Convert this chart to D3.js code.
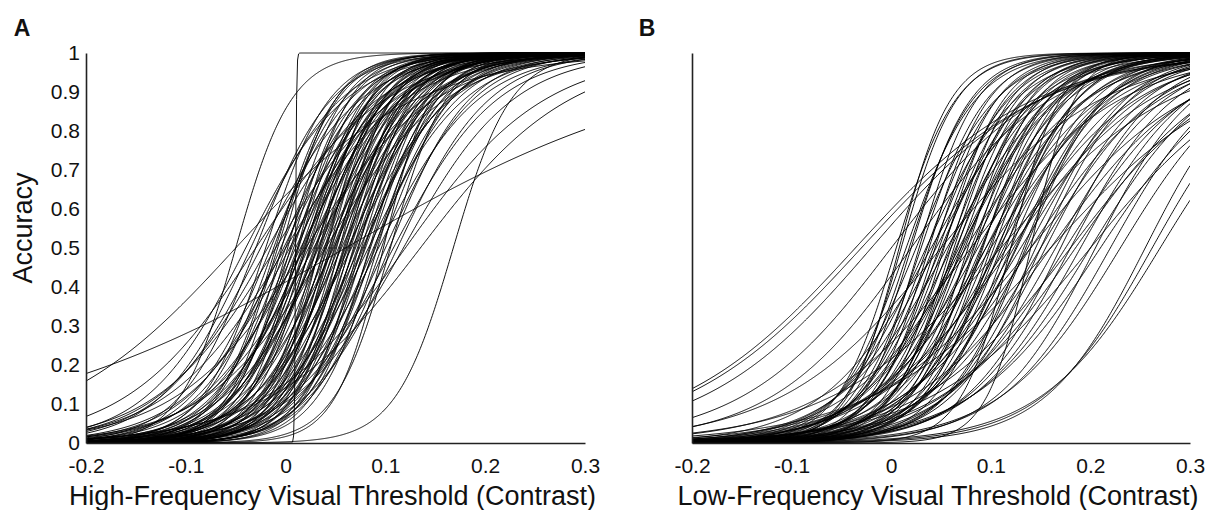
<!DOCTYPE html>
<html>
<head>
<meta charset="utf-8">
<script src="https://cdn.jsdelivr.net/npm/d3@7"></script>
<style>
  body { margin: 0; background: #fff; }
  text { font-family: "Liberation Sans", Arial, sans-serif; fill: #111; }
</style>
</head>
<body>
<svg id="chart" width="1221" height="510"></svg>
<script>
// psychometric fits, one entry per participant: midpoint (accuracy 0.5) and spread
const highMid = [
  -0.035, -0.03, -0.025, -0.02, -0.018, -0.015, -0.012, -0.01, -0.008, -0.005,
  -0.002, 0.0, 0.002, 0.004, 0.006, 0.008, 0.01, 0.012, 0.013, 0.015,
  0.016, 0.018, 0.02, 0.021, 0.023, 0.025, 0.026, 0.028, 0.03, 0.031,
  0.033, 0.035, 0.036, 0.038, 0.04, 0.041, 0.043, 0.045, 0.046, 0.048,
  0.05, 0.051, 0.053, 0.055, 0.056, 0.058, 0.06, 0.061, 0.063, 0.065,
  0.066, 0.068, 0.07, 0.072, 0.074, 0.076, 0.078, 0.08, 0.083, 0.085,
  0.088, 0.09, 0.093, 0.096, 0.1, 0.104, 0.108, 0.112, 0.118,
  0.01, 0.06, -0.05, 0.168, 0.12, 0.135, -0.03, -0.04, 0.0, 0.02, 0.04,
  -0.05, 0.098, 0.105,
  0.005, 0.012, 0.019, 0.024, 0.029, 0.034, 0.039, 0.044, 0.049, 0.054,
  0.059, 0.064, 0.069, 0.073, 0.079, 0.084, 0.089, -0.01, -0.004, 0.017,
  0.032, 0.047, 0.062, 0.077, 0.092
];
const highSpread = [
  0.045, 0.038, 0.05, 0.032, 0.055, 0.04, 0.035, 0.06, 0.03, 0.042,
  0.048, 0.036, 0.028, 0.052, 0.04, 0.033, 0.045, 0.038, 0.03, 0.05,
  0.034, 0.042, 0.029, 0.037, 0.046, 0.032, 0.04, 0.055, 0.035, 0.027,
  0.044, 0.031, 0.038, 0.05, 0.033, 0.026, 0.041, 0.035, 0.03, 0.047,
  0.036, 0.028, 0.039, 0.032, 0.045, 0.03, 0.037, 0.027, 0.042, 0.033,
  0.05, 0.029, 0.038, 0.034, 0.045, 0.03, 0.04, 0.036, 0.048, 0.032,
  0.042, 0.038, 0.05, 0.035, 0.044, 0.04, 0.052, 0.046, 0.055,
  0.0005, 0.17, 0.09, 0.029, 0.07, 0.075, 0.065, 0.05, 0.06, 0.065, 0.06,
  0.028, 0.024, 0.028,
  0.03, 0.026, 0.033, 0.028, 0.036, 0.025, 0.03, 0.027, 0.033, 0.026,
  0.032, 0.028, 0.034, 0.027, 0.031, 0.029, 0.034, 0.03, 0.027, 0.04,
  0.042, 0.04, 0.045, 0.043, 0.03
];

const lowMid = [
  0.005, 0.01, 0.015, 0.02, 0.025, 0.03, 0.035, 0.038, 0.042, 0.045,
  0.048, 0.05, 0.053, 0.056, 0.058, 0.06, 0.063, 0.065, 0.068, 0.07,
  0.072, 0.075, 0.077, 0.08, 0.082, 0.085, 0.087, 0.09, 0.092, 0.095,
  0.098, 0.1, 0.103, 0.106, 0.108, 0.11, 0.113, 0.116, 0.12, 0.123,
  0.126, 0.13, 0.133, 0.137, 0.14, 0.145, 0.15, 0.155, 0.16, 0.165,
  0.17, 0.175, 0.18, 0.185, 0.19, 0.2, 0.205, 0.21, 0.22, 0.23,
  0.255, 0.262, 0.27,
  -0.036, -0.03, -0.02, 0.0, 0.02, 0.05, 0.08, 0.11, 0.14, 0.16,
  0.14, 0.12,
  0.008, 0.018, 0.028, 0.036, 0.044, 0.052, 0.06, 0.066, 0.074, 0.083,
  0.091, 0.1, 0.107, 0.115, 0.125, 0.135, 0.15, 0.04, 0.07, 0.095,
  0.12, 0.18, 0.2
];
const lowSpread = [
  0.03, 0.028, 0.035, 0.03, 0.04, 0.033, 0.045, 0.03, 0.038, 0.05,
  0.034, 0.042, 0.03, 0.055, 0.037, 0.046, 0.032, 0.04, 0.05, 0.035,
  0.043, 0.06, 0.031, 0.039, 0.048, 0.036, 0.055, 0.042, 0.033, 0.05,
  0.04, 0.062, 0.036, 0.045, 0.055, 0.038, 0.05, 0.065, 0.042, 0.055,
  0.047, 0.06, 0.04, 0.052, 0.065, 0.045, 0.058, 0.05, 0.07, 0.055,
  0.048, 0.062, 0.052, 0.068, 0.055, 0.06, 0.05, 0.065, 0.055, 0.06,
  0.05, 0.055, 0.06,
  0.09, 0.09, 0.085, 0.075, 0.07, 0.08, 0.075, 0.085, 0.08, 0.09,
  0.022, 0.025,
  0.026, 0.032, 0.029, 0.035, 0.031, 0.036, 0.03, 0.034, 0.038, 0.032,
  0.037, 0.034, 0.04, 0.036, 0.045, 0.04, 0.045, 0.055, 0.05, 0.058,
  0.07, 0.075, 0.08
];

const xTicks = [-0.2, -0.1, 0, 0.1, 0.2, 0.3];
const xTickLabels = ["-0.2", "-0.1", "0", "0.1", "0.2", "0.3"];
const yTicks = [0, 0.1, 0.2, 0.3, 0.4, 0.5, 0.6, 0.7, 0.8, 0.9, 1];
const yTickLabels = ["0", "0.1", "0.2", "0.3", "0.4", "0.5", "0.6", "0.7", "0.8", "0.9", "1"];

const svg = d3.select("#chart");
const plotTop = 53, plotBottom = 443;
const samples = d3.range(0, 501).map(i => -0.2 + i * 0.001);

function drawPanel(cfg) {
    const x = d3.scaleLinear().domain([-0.2, 0.3]).range([cfg.left, cfg.right]);
    const y = d3.scaleLinear().domain([0, 1]).range([plotBottom, plotTop]);

    const g = svg.append("g");

    const clipId = "clip-" + cfg.name;
    svg.append("clipPath").attr("id", clipId)
        .append("rect")
        .attr("x", cfg.left).attr("y", plotTop - 2)
        .attr("width", cfg.right - cfg.left).attr("height", plotBottom - plotTop + 2);

    const line = d3.line()
        .x(d => x(d[0]))
        .y(d => y(d[1]));

    const curves = cfg.mid.map((m, i) => {
        const s = cfg.spread[i];
        return samples.map(v => [v, 1 / (1 + Math.exp(-(v - m) / s))]);
    });

    g.append("g")
        .attr("clip-path", `url(#${clipId})`)
        .selectAll("path")
        .data(curves)
        .join("path")
        .attr("d", line)
        .attr("fill", "none")
        .attr("stroke", "#000")
        .attr("stroke-opacity", 0.92)
        .attr("stroke-width", 1);

    const xaxis = d3.axisBottom(x)
        .tickValues(xTicks)
        .tickFormat((d, i) => xTickLabels[i])
        .tickSize(0)
        .tickPadding(15);
    const xg = g.append("g")
        .attr("transform", `translate(0,${plotBottom})`)
        .call(xaxis);
    xg.selectAll("text").attr("font-size", 21).attr("fill", "#111");

    const yaxis = d3.axisLeft(y)
        .tickValues(yTicks)
        .tickFormat((d, i) => cfg.yLabels ? yTickLabels[i] : "")
        .tickSize(0)
        .tickPadding(6);
    const yg = g.append("g")
        .attr("transform", `translate(${cfg.left},0)`)
        .call(yaxis);
    yg.selectAll("text").attr("font-size", 21).attr("fill", "#111");

    g.selectAll(".domain").attr("stroke", "#222").attr("stroke-width", 1.6);

    g.append("text")
        .attr("x", (cfg.left + cfg.right) / 2 - 3)
        .attr("y", 505)
        .attr("text-anchor", "middle")
        .attr("font-size", 27)
        .text(cfg.title);

    g.append("text")
        .attr("x", cfg.labelX)
        .attr("y", 36)
        .attr("text-anchor", "middle")
        .attr("font-size", 23)
        .attr("font-weight", "bold")
        .text(cfg.name);

    if (cfg.yTitle) {
        g.append("text")
            .attr("transform", `translate(32,228) rotate(-90)`)
            .attr("text-anchor", "middle")
            .attr("font-size", 27)
            .text(cfg.yTitle);
    }
}

drawPanel({
    name: "A", left: 86, right: 585, labelX: 22,
    mid: highMid, spread: highSpread, yLabels: true,
    title: "High-Frequency Visual Threshold (Contrast)", yTitle: "Accuracy"
});
drawPanel({
    name: "B", left: 692, right: 1190, labelX: 647,
    mid: lowMid, spread: lowSpread, yLabels: false,
    title: "Low-Frequency Visual Threshold (Contrast)", yTitle: null
});
</script>
</body>
</html>
